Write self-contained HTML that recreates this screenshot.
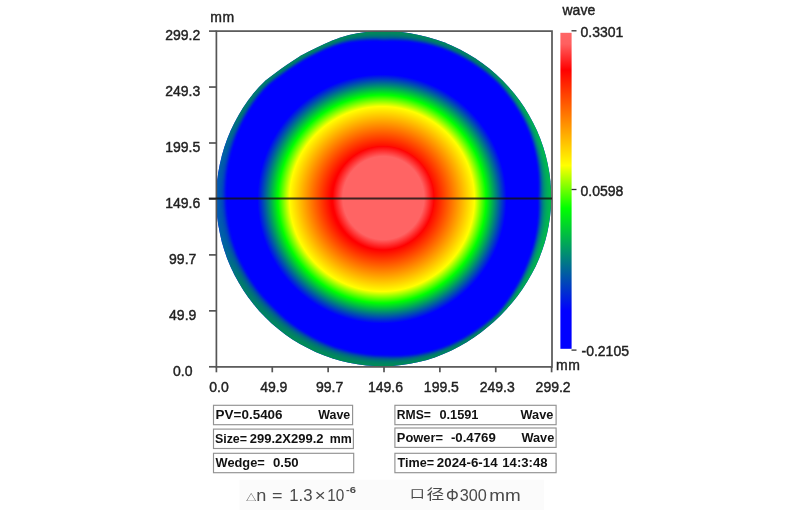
<!DOCTYPE html>
<html lang="zh"><head><meta charset="utf-8"><title>wavefront map</title>
<style>
html,body{margin:0;padding:0;background:#fff;}
body{width:790px;height:510px;overflow:hidden;position:relative;}
svg{position:absolute;left:0;top:0;display:block;filter:blur(0.45px);}
.ax{font-family:"Liberation Sans","DejaVu Sans",sans-serif;font-size:14px;fill:#222;stroke:#222;stroke-width:0.42px;}
.bx{font-family:"Liberation Sans","DejaVu Sans",sans-serif;font-size:13.4px;font-weight:bold;fill:#111;}
.cap{font-family:"Liberation Sans","Noto Sans CJK SC",sans-serif;font-size:17px;fill:#4a4a4a;}
</style></head><body>
<svg width="790" height="510" viewBox="0 0 790 510">
<defs>
<radialGradient id="rings" gradientUnits="userSpaceOnUse" cx="382" cy="199" r="180">
<stop offset="0" stop-color="#ff0000"/>
<stop offset="0.283" stop-color="#ff0000"/>
<stop offset="0.514" stop-color="#ffff00"/>
<stop offset="0.578" stop-color="#00ff00"/>
<stop offset="0.692" stop-color="#0000ff"/>
<stop offset="1" stop-color="#0000ff"/>
</radialGradient>
<radialGradient id="pink" cx="0.5" cy="0.5" r="0.5"><stop offset="0" stop-color="#ff6464"/><stop offset="0.8" stop-color="#ff6464"/><stop offset="1" stop-color="#ff0000"/></radialGradient>
<linearGradient id="cbar" x1="0" y1="0" x2="0" y2="1">
<stop offset="0" stop-color="#ff6666"/>
<stop offset="0.035" stop-color="#ff6060"/>
<stop offset="0.118" stop-color="#ff0000"/>
<stop offset="0.42" stop-color="#ffff00"/>
<stop offset="0.555" stop-color="#00ff00"/>
<stop offset="0.88" stop-color="#0000ff"/>
<stop offset="1" stop-color="#0000ff"/>
</linearGradient>
<filter id="rimblur" x="-5%" y="-5%" width="110%" height="110%"><feGaussianBlur stdDeviation="1"/></filter>
<linearGradient id="rimcol" gradientUnits="userSpaceOnUse" x1="216" y1="0" x2="552" y2="0"><stop offset="0" stop-color="rgb(0,95,180)"/><stop offset="0.07" stop-color="rgb(0,135,95)"/><stop offset="0.25" stop-color="rgb(0,152,74)"/><stop offset="0.8" stop-color="rgb(0,145,78)"/><stop offset="0.95" stop-color="rgb(0,195,65)"/><stop offset="1" stop-color="rgb(0,200,65)"/></linearGradient>
<clipPath id="clip"><polygon points="551.2,198.8 550.9,207.6 550.1,216.3 548.8,224.9 547.1,233.5 544.9,242.0 542.2,250.3 539.1,258.4 535.6,266.4 531.6,274.1 527.3,281.6 522.5,288.9 517.5,295.9 512.1,302.7 506.4,309.2 500.5,315.5 494.2,321.4 487.7,327.1 480.9,332.5 473.9,337.5 466.6,342.3 459.1,346.6 451.4,350.6 443.4,354.1 435.3,357.2 427.0,359.9 418.5,362.1 409.9,363.8 401.3,365.1 392.6,365.9 383.8,366.2 375.0,366.0 366.3,365.4 357.6,364.3 349.0,362.7 340.4,360.7 332.0,358.2 323.7,355.3 315.6,351.9 307.7,348.1 300.0,343.9 292.5,339.4 285.3,334.4 278.3,329.0 271.7,323.4 265.3,317.3 259.2,310.9 253.6,304.3 248.2,297.3 243.2,290.1 238.7,282.6 234.5,274.9 230.7,267.0 227.3,258.9 224.4,250.6 221.9,242.2 219.9,233.6 218.3,225.0 217.1,216.3 216.4,207.6 216.2,198.8 216.4,190.0 217.1,181.3 218.3,172.6 219.9,164.0 221.9,155.4 224.4,147.0 227.3,138.7 230.7,130.6 234.5,122.7 238.7,115.0 243.2,107.5 248.2,100.3 253.6,93.3 259.3,86.7 265.6,80.6 272.5,75.2 279.5,70.0 286.6,65.0 293.8,60.2 301.1,55.6 308.8,51.5 316.5,47.7 324.4,44.1 332.4,40.6 340.6,37.4 349.0,35.0 357.6,33.3 366.3,32.1 375.0,31.4 383.8,31.2 392.6,31.4 401.3,32.1 410.0,33.3 418.6,34.9 427.2,36.9 435.6,39.4 443.9,42.3 452.0,45.7 459.9,49.5 467.6,53.7 475.1,58.2 482.3,63.2 489.3,68.6 495.9,74.2 502.3,80.3 508.4,86.7 514.0,93.3 519.4,100.3 524.4,107.5 528.9,115.0 533.1,122.7 536.9,130.6 540.3,138.7 543.2,147.0 545.7,155.4 547.7,164.0 549.3,172.6 550.4,181.3 551.0,190.0"/></clipPath>
</defs>
<g clip-path="url(#clip)">
<rect x="210" y="25" width="350" height="350" fill="url(#rings)"/>
<ellipse cx="383.4" cy="198" rx="50.8" ry="52" fill="url(#pink)"/>
<g filter="url(#rimblur)" fill="url(#rimcol)" fill-rule="evenodd" fill-opacity="0.42"><path d="M557.2 198.8L556.9 207.9L556.1 216.9L554.8 225.9L553.0 234.8L550.7 243.5L547.9 252.1L544.7 260.6L541.0 268.8L536.9 276.8L532.5 284.6L527.6 292.2L522.3 299.5L516.8 306.5L510.9 313.2L504.7 319.7L498.2 325.9L491.5 331.8L484.5 337.3L477.2 342.6L469.6 347.5L461.8 351.9L453.8 356.0L445.6 359.7L437.1 362.9L428.5 365.7L419.8 368.0L410.9 369.8L401.9 371.1L392.9 371.9L383.8 372.2L374.7 372.0L365.7 371.4L356.7 370.2L347.7 368.6L338.9 366.5L330.2 363.9L321.6 360.9L313.2 357.4L305.0 353.5L297.0 349.1L289.3 344.4L281.8 339.2L274.6 333.7L267.6 327.8L261.0 321.6L254.8 315.0L248.9 308.1L243.4 300.8L238.2 293.3L233.5 285.6L229.1 277.6L225.2 269.4L221.7 261.0L218.7 252.4L216.1 243.7L214.0 234.9L212.3 226.0L211.2 216.9L210.4 207.9L210.2 198.8L210.4 189.7L211.2 180.7L212.3 171.6L214.0 162.7L216.1 153.9L218.7 145.2L221.7 136.6L225.2 128.2L229.1 120.0L233.5 112.0L238.2 104.3L243.4 96.8L248.9 89.6L254.9 82.7L261.4 76.4L268.5 70.7L275.7 65.4L283.1 60.1L290.5 55.1L298.1 50.4L306.0 46.2L314.1 42.2L322.3 38.5L330.5 34.9L339.0 31.6L347.7 29.1L356.6 27.3L365.7 26.2L374.7 25.4L383.8 25.2L392.9 25.4L401.9 26.2L411.0 27.3L419.9 29.0L428.7 31.1L437.4 33.7L446.0 36.7L454.4 40.2L462.6 44.1L470.6 48.5L478.3 53.2L485.8 58.4L493.1 63.9L500.0 69.8L506.6 76.0L512.8 82.6L518.7 89.6L524.2 96.8L529.4 104.3L534.1 112.0L538.5 120.0L542.4 128.2L545.9 136.6L548.9 145.2L551.5 153.9L553.6 162.7L555.2 171.7L556.4 180.7L557.0 189.7ZM548.8 198.8L548.6 207.4L547.9 216.0L546.8 224.6L545.1 233.1L543.0 241.5L540.5 249.7L537.5 257.8L534.1 265.7L530.3 273.4L526.1 280.9L521.5 288.2L516.6 295.3L511.4 302.1L505.8 308.7L500.0 315.0L493.7 320.9L487.2 326.5L480.4 331.8L473.4 336.8L466.1 341.4L458.6 345.7L450.9 349.5L443.0 353.0L434.9 356.0L426.6 358.5L418.2 360.6L409.7 362.2L401.1 363.4L392.5 364.0L383.8 364.2L375.1 364.0L366.5 363.3L357.9 362.2L349.4 360.6L341.0 358.6L332.7 356.1L324.5 353.2L316.5 349.9L308.7 346.1L301.1 342.0L293.8 337.4L286.7 332.5L279.8 327.2L273.2 321.6L267.0 315.6L261.0 309.4L255.3 302.8L250.0 296.0L245.1 288.9L240.5 281.5L236.3 273.9L232.6 266.1L229.2 258.1L226.3 250.0L223.8 241.7L221.7 233.2L220.1 224.7L219.0 216.1L218.3 207.5L218.0 198.8L218.2 190.1L218.8 181.5L219.9 172.8L221.4 164.3L223.4 155.8L225.8 147.5L228.6 139.2L231.9 131.2L235.6 123.3L239.7 115.6L244.2 108.2L249.1 101.0L254.4 94.0L260.1 87.4L266.4 81.4L273.1 75.9L280.1 70.8L287.2 65.8L294.3 61.0L301.6 56.5L309.2 52.4L316.9 48.6L324.8 45.0L332.7 41.6L340.9 38.6L349.2 36.2L357.8 34.7L366.4 33.7L375.1 33.1L383.8 33.0L392.5 33.1L401.1 33.7L409.8 34.8L418.3 36.3L426.8 38.2L435.2 40.6L443.4 43.4L451.5 46.8L459.4 50.5L467.0 54.6L474.5 59.2L481.7 64.1L488.6 69.4L495.3 75.0L501.6 81.0L507.6 87.4L513.2 94.0L518.4 101.0L523.3 108.2L527.8 115.7L531.9 123.3L535.6 131.2L538.8 139.3L541.6 147.5L543.9 155.9L545.8 164.4L547.3 172.9L548.2 181.5L548.8 190.2Z"/>
<path d="M557.2 198.8L556.9 207.9L556.1 216.9L554.8 225.9L553.0 234.8L550.7 243.5L547.9 252.1L544.7 260.6L541.0 268.8L536.9 276.8L532.5 284.6L527.6 292.2L522.3 299.5L516.8 306.5L510.9 313.2L504.7 319.7L498.2 325.9L491.5 331.8L484.5 337.3L477.2 342.6L469.6 347.5L461.8 351.9L453.8 356.0L445.6 359.7L437.1 362.9L428.5 365.7L419.8 368.0L410.9 369.8L401.9 371.1L392.9 371.9L383.8 372.2L374.7 372.0L365.7 371.4L356.7 370.2L347.7 368.6L338.9 366.5L330.2 363.9L321.6 360.9L313.2 357.4L305.0 353.5L297.0 349.1L289.3 344.4L281.8 339.2L274.6 333.7L267.6 327.8L261.0 321.6L254.8 315.0L248.9 308.1L243.4 300.8L238.2 293.3L233.5 285.6L229.1 277.6L225.2 269.4L221.7 261.0L218.7 252.4L216.1 243.7L214.0 234.9L212.3 226.0L211.2 216.9L210.4 207.9L210.2 198.8L210.4 189.7L211.2 180.7L212.3 171.6L214.0 162.7L216.1 153.9L218.7 145.2L221.7 136.6L225.2 128.2L229.1 120.0L233.5 112.0L238.2 104.3L243.4 96.8L248.9 89.6L254.9 82.7L261.4 76.4L268.5 70.7L275.7 65.4L283.1 60.1L290.5 55.1L298.1 50.4L306.0 46.2L314.1 42.2L322.3 38.5L330.5 34.9L339.0 31.6L347.7 29.1L356.6 27.3L365.7 26.2L374.7 25.4L383.8 25.2L392.9 25.4L401.9 26.2L411.0 27.3L419.9 29.0L428.7 31.1L437.4 33.7L446.0 36.7L454.4 40.2L462.6 44.1L470.6 48.5L478.3 53.2L485.8 58.4L493.1 63.9L500.0 69.8L506.6 76.0L512.8 82.6L518.7 89.6L524.2 96.8L529.4 104.3L534.1 112.0L538.5 120.0L542.4 128.2L545.9 136.6L548.9 145.2L551.5 153.9L553.6 162.7L555.2 171.7L556.4 180.7L557.0 189.7ZM546.4 198.8L546.3 207.3L545.7 215.8L544.7 224.3L543.2 232.7L541.2 241.0L538.8 249.1L535.9 257.2L532.6 265.0L528.9 272.7L524.9 280.2L520.5 287.6L515.7 294.6L510.6 301.5L505.2 308.1L499.5 314.5L493.2 320.3L486.7 325.8L479.9 331.1L472.9 336.0L465.6 340.5L458.1 344.7L450.5 348.5L442.6 351.9L434.5 354.8L426.2 357.2L417.9 359.1L409.4 360.6L400.9 361.6L392.4 362.1L383.8 362.2L375.2 362.0L366.7 361.3L358.2 360.2L349.8 358.6L341.5 356.5L333.4 354.1L325.3 351.2L317.4 347.9L309.7 344.1L302.3 340.0L295.0 335.5L288.0 330.6L281.3 325.4L274.8 319.8L268.7 313.9L262.7 307.8L257.1 301.4L251.9 294.7L246.9 287.7L242.4 280.4L238.2 273.0L234.5 265.3L231.1 257.4L228.2 249.4L225.7 241.2L223.6 232.8L222.0 224.4L220.8 215.9L220.1 207.4L219.8 198.8L219.9 190.2L220.5 181.6L221.5 173.1L222.9 164.6L224.8 156.2L227.1 147.9L229.9 139.7L233.1 131.7L236.8 123.9L240.8 116.2L245.2 108.8L250.1 101.6L255.3 94.7L260.9 88.1L267.1 82.1L273.8 76.7L280.8 71.6L287.8 66.6L294.9 61.8L302.1 57.4L309.7 53.3L317.3 49.5L325.1 46.0L333.1 42.6L341.2 39.7L349.5 37.5L358.0 36.1L366.6 35.2L375.2 34.8L383.8 34.8L392.4 34.8L401.0 35.3L409.5 36.3L418.0 37.7L426.5 39.5L434.8 41.8L443.0 44.6L451.0 47.8L458.9 51.5L466.5 55.6L473.9 60.1L481.1 64.9L488.0 70.2L494.6 75.8L500.9 81.7L506.8 88.1L512.3 94.7L517.5 101.7L522.3 108.9L526.7 116.3L530.7 123.9L534.3 131.8L537.3 139.9L540.0 148.1L542.2 156.4L543.9 164.8L545.2 173.2L546.1 181.7L546.5 190.3Z"/>
<path d="M557.2 198.8L556.9 207.9L556.1 216.9L554.8 225.9L553.0 234.8L550.7 243.5L547.9 252.1L544.7 260.6L541.0 268.8L536.9 276.8L532.5 284.6L527.6 292.2L522.3 299.5L516.8 306.5L510.9 313.2L504.7 319.7L498.2 325.9L491.5 331.8L484.5 337.3L477.2 342.6L469.6 347.5L461.8 351.9L453.8 356.0L445.6 359.7L437.1 362.9L428.5 365.7L419.8 368.0L410.9 369.8L401.9 371.1L392.9 371.9L383.8 372.2L374.7 372.0L365.7 371.4L356.7 370.2L347.7 368.6L338.9 366.5L330.2 363.9L321.6 360.9L313.2 357.4L305.0 353.5L297.0 349.1L289.3 344.4L281.8 339.2L274.6 333.7L267.6 327.8L261.0 321.6L254.8 315.0L248.9 308.1L243.4 300.8L238.2 293.3L233.5 285.6L229.1 277.6L225.2 269.4L221.7 261.0L218.7 252.4L216.1 243.7L214.0 234.9L212.3 226.0L211.2 216.9L210.4 207.9L210.2 198.8L210.4 189.7L211.2 180.7L212.3 171.6L214.0 162.7L216.1 153.9L218.7 145.2L221.7 136.6L225.2 128.2L229.1 120.0L233.5 112.0L238.2 104.3L243.4 96.8L248.9 89.6L254.9 82.7L261.4 76.4L268.5 70.7L275.7 65.4L283.1 60.1L290.5 55.1L298.1 50.4L306.0 46.2L314.1 42.2L322.3 38.5L330.5 34.9L339.0 31.6L347.7 29.1L356.6 27.3L365.7 26.2L374.7 25.4L383.8 25.2L392.9 25.4L401.9 26.2L411.0 27.3L419.9 29.0L428.7 31.1L437.4 33.7L446.0 36.7L454.4 40.2L462.6 44.1L470.6 48.5L478.3 53.2L485.8 58.4L493.1 63.9L500.0 69.8L506.6 76.0L512.8 82.6L518.7 89.6L524.2 96.8L529.4 104.3L534.1 112.0L538.5 120.0L542.4 128.2L545.9 136.6L548.9 145.2L551.5 153.9L553.6 162.7L555.2 171.7L556.4 180.7L557.0 189.7ZM544.0 198.8L544.0 207.2L543.5 215.6L542.6 223.9L541.2 232.3L539.3 240.5L537.0 248.6L534.3 256.6L531.1 264.4L527.6 272.1L523.7 279.6L519.4 286.9L514.8 294.0L509.9 300.9L504.6 307.6L499.0 314.0L492.7 319.7L486.2 325.2L479.4 330.4L472.4 335.2L465.1 339.7L457.7 343.8L450.0 347.5L442.1 350.8L434.1 353.6L425.9 355.8L417.6 357.6L409.2 359.0L400.7 359.9L392.3 360.3L383.8 360.2L375.4 360.0L366.9 359.3L358.6 358.1L350.3 356.5L342.1 354.5L334.0 352.0L326.1 349.1L318.3 345.8L310.8 342.1L303.4 338.0L296.3 333.6L289.4 328.8L282.8 323.6L276.4 318.1L270.4 312.2L264.5 306.2L258.9 299.9L253.7 293.3L248.8 286.5L244.3 279.4L240.1 272.0L236.3 264.5L233.0 256.7L230.1 248.8L227.6 240.7L225.5 232.4L223.9 224.1L222.7 215.7L221.9 207.3L221.6 198.8L221.6 190.3L222.1 181.8L223.1 173.3L224.4 164.9L226.3 156.6L228.5 148.3L231.2 140.2L234.4 132.3L237.9 124.5L241.9 116.9L246.2 109.5L251.0 102.3L256.1 95.4L261.7 88.8L267.8 82.8L274.5 77.4L281.4 72.3L288.4 67.4L295.4 62.7L302.6 58.2L310.1 54.2L317.8 50.5L325.5 46.9L333.4 43.7L341.5 40.9L349.8 38.8L358.3 37.5L366.8 36.8L375.3 36.5L383.8 36.6L392.3 36.6L400.8 37.0L409.3 37.8L417.7 39.1L426.1 40.8L434.4 43.0L442.6 45.7L450.5 48.9L458.3 52.5L465.9 56.6L473.3 61.0L480.4 65.8L487.3 71.0L493.9 76.5L500.2 82.4L506.0 88.8L511.4 95.4L516.5 102.4L521.2 109.5L525.6 117.0L529.5 124.6L533.0 132.4L535.9 140.4L538.4 148.6L540.4 156.8L542.1 165.2L543.2 173.5L543.9 182.0L544.2 190.4Z"/>
<path d="M557.2 198.8L556.9 207.9L556.1 216.9L554.8 225.9L553.0 234.8L550.7 243.5L547.9 252.1L544.7 260.6L541.0 268.8L536.9 276.8L532.5 284.6L527.6 292.2L522.3 299.5L516.8 306.5L510.9 313.2L504.7 319.7L498.2 325.9L491.5 331.8L484.5 337.3L477.2 342.6L469.6 347.5L461.8 351.9L453.8 356.0L445.6 359.7L437.1 362.9L428.5 365.7L419.8 368.0L410.9 369.8L401.9 371.1L392.9 371.9L383.8 372.2L374.7 372.0L365.7 371.4L356.7 370.2L347.7 368.6L338.9 366.5L330.2 363.9L321.6 360.9L313.2 357.4L305.0 353.5L297.0 349.1L289.3 344.4L281.8 339.2L274.6 333.7L267.6 327.8L261.0 321.6L254.8 315.0L248.9 308.1L243.4 300.8L238.2 293.3L233.5 285.6L229.1 277.6L225.2 269.4L221.7 261.0L218.7 252.4L216.1 243.7L214.0 234.9L212.3 226.0L211.2 216.9L210.4 207.9L210.2 198.8L210.4 189.7L211.2 180.7L212.3 171.6L214.0 162.7L216.1 153.9L218.7 145.2L221.7 136.6L225.2 128.2L229.1 120.0L233.5 112.0L238.2 104.3L243.4 96.8L248.9 89.6L254.9 82.7L261.4 76.4L268.5 70.7L275.7 65.4L283.1 60.1L290.5 55.1L298.1 50.4L306.0 46.2L314.1 42.2L322.3 38.5L330.5 34.9L339.0 31.6L347.7 29.1L356.6 27.3L365.7 26.2L374.7 25.4L383.8 25.2L392.9 25.4L401.9 26.2L411.0 27.3L419.9 29.0L428.7 31.1L437.4 33.7L446.0 36.7L454.4 40.2L462.6 44.1L470.6 48.5L478.3 53.2L485.8 58.4L493.1 63.9L500.0 69.8L506.6 76.0L512.8 82.6L518.7 89.6L524.2 96.8L529.4 104.3L534.1 112.0L538.5 120.0L542.4 128.2L545.9 136.6L548.9 145.2L551.5 153.9L553.6 162.7L555.2 171.7L556.4 180.7L557.0 189.7ZM541.6 198.8L541.7 207.1L541.3 215.4L540.5 223.6L539.2 231.8L537.5 240.0L535.3 248.0L532.7 255.9L529.6 263.7L526.2 271.4L522.5 278.9L518.4 286.2L513.9 293.3L509.1 300.3L504.0 307.0L498.5 313.5L492.2 319.2L485.6 324.6L478.9 329.6L471.9 334.4L464.6 338.8L457.2 342.8L449.5 346.5L441.7 349.7L433.7 352.4L425.5 354.5L417.2 356.2L408.9 357.4L400.5 358.1L392.2 358.4L383.8 358.2L375.5 357.9L367.1 357.2L358.9 356.0L350.7 354.4L342.6 352.4L334.7 350.0L326.9 347.1L319.2 343.8L311.8 340.1L304.5 336.1L297.5 331.7L290.7 326.9L284.2 321.8L278.0 316.3L272.1 310.5L266.2 304.7L260.7 298.5L255.5 292.0L250.6 285.3L246.1 278.3L242.0 271.1L238.2 263.6L234.9 256.0L231.9 248.1L229.4 240.2L227.4 232.0L225.7 223.8L224.5 215.5L223.7 207.2L223.4 198.8L223.4 190.4L223.8 182.0L224.7 173.6L226.0 165.3L227.7 157.0L229.9 148.8L232.5 140.7L235.6 132.8L239.1 125.1L242.9 117.5L247.2 110.1L251.9 103.0L257.0 96.1L262.4 89.5L268.5 83.5L275.2 78.1L282.0 73.1L288.9 68.2L295.9 63.5L303.1 59.1L310.6 55.1L318.2 51.4L325.8 47.8L333.7 44.7L341.8 42.0L350.1 40.1L358.5 39.0L366.9 38.3L375.4 38.1L383.8 38.4L392.2 38.3L400.6 38.6L409.1 39.3L417.4 40.5L425.8 42.1L434.0 44.2L442.2 46.8L450.1 50.0L457.8 53.5L465.4 57.5L472.7 61.9L479.8 66.7L486.6 71.8L493.2 77.3L499.5 83.1L505.2 89.5L510.6 96.1L515.6 103.1L520.2 110.2L524.4 117.6L528.3 125.2L531.6 133.0L534.4 141.0L536.8 149.1L538.7 157.3L540.2 165.6L541.2 173.9L541.8 182.2L541.9 190.5Z"/>
<path d="M557.2 198.8L556.9 207.9L556.1 216.9L554.8 225.9L553.0 234.8L550.7 243.5L547.9 252.1L544.7 260.6L541.0 268.8L536.9 276.8L532.5 284.6L527.6 292.2L522.3 299.5L516.8 306.5L510.9 313.2L504.7 319.7L498.2 325.9L491.5 331.8L484.5 337.3L477.2 342.6L469.6 347.5L461.8 351.9L453.8 356.0L445.6 359.7L437.1 362.9L428.5 365.7L419.8 368.0L410.9 369.8L401.9 371.1L392.9 371.9L383.8 372.2L374.7 372.0L365.7 371.4L356.7 370.2L347.7 368.6L338.9 366.5L330.2 363.9L321.6 360.9L313.2 357.4L305.0 353.5L297.0 349.1L289.3 344.4L281.8 339.2L274.6 333.7L267.6 327.8L261.0 321.6L254.8 315.0L248.9 308.1L243.4 300.8L238.2 293.3L233.5 285.6L229.1 277.6L225.2 269.4L221.7 261.0L218.7 252.4L216.1 243.7L214.0 234.9L212.3 226.0L211.2 216.9L210.4 207.9L210.2 198.8L210.4 189.7L211.2 180.7L212.3 171.6L214.0 162.7L216.1 153.9L218.7 145.2L221.7 136.6L225.2 128.2L229.1 120.0L233.5 112.0L238.2 104.3L243.4 96.8L248.9 89.6L254.9 82.7L261.4 76.4L268.5 70.7L275.7 65.4L283.1 60.1L290.5 55.1L298.1 50.4L306.0 46.2L314.1 42.2L322.3 38.5L330.5 34.9L339.0 31.6L347.7 29.1L356.6 27.3L365.7 26.2L374.7 25.4L383.8 25.2L392.9 25.4L401.9 26.2L411.0 27.3L419.9 29.0L428.7 31.1L437.4 33.7L446.0 36.7L454.4 40.2L462.6 44.1L470.6 48.5L478.3 53.2L485.8 58.4L493.1 63.9L500.0 69.8L506.6 76.0L512.8 82.6L518.7 89.6L524.2 96.8L529.4 104.3L534.1 112.0L538.5 120.0L542.4 128.2L545.9 136.6L548.9 145.2L551.5 153.9L553.6 162.7L555.2 171.7L556.4 180.7L557.0 189.7ZM539.2 198.8L539.4 207.0L539.1 215.1L538.4 223.3L537.2 231.4L535.6 239.5L533.5 247.5L531.0 255.3L528.1 263.0L524.9 270.7L521.3 278.2L517.3 285.5L513.0 292.7L508.4 299.7L503.3 306.4L498.0 313.0L491.7 318.6L485.1 323.9L478.3 328.9L471.3 333.6L464.1 337.9L456.7 341.9L449.1 345.4L441.3 348.6L433.3 351.1L425.2 353.1L416.9 354.7L408.7 355.7L400.4 356.4L392.1 356.5L383.8 356.2L375.6 355.9L367.4 355.2L359.2 354.0L351.2 352.4L343.2 350.3L335.4 347.9L327.7 345.0L320.1 341.8L312.8 338.1L305.7 334.1L298.8 329.7L292.1 325.0L285.7 319.9L279.6 314.5L273.8 308.8L268.0 303.1L262.5 297.0L257.3 290.7L252.5 284.1L248.0 277.2L243.9 270.1L240.1 262.8L236.7 255.3L233.8 247.5L231.3 239.7L229.3 231.7L227.6 223.5L226.4 215.3L225.6 207.1L225.2 198.8L225.1 190.5L225.5 182.2L226.3 173.8L227.5 165.6L229.2 157.4L231.3 149.2L233.8 141.2L236.8 133.3L240.2 125.6L244.0 118.1L248.2 110.8L252.8 103.6L257.8 96.8L263.2 90.2L269.2 84.2L275.8 78.9L282.7 73.9L289.5 69.0L296.5 64.4L303.6 60.0L311.0 56.0L318.6 52.3L326.2 48.8L334.1 45.7L342.1 43.2L350.3 41.4L358.7 40.4L367.1 39.9L375.5 39.8L383.8 40.2L392.1 40.0L400.5 40.2L408.8 40.8L417.1 41.9L425.4 43.4L433.6 45.4L441.7 47.9L449.6 51.0L457.3 54.6L464.8 58.5L472.1 62.8L479.2 67.5L486.0 72.6L492.5 78.1L498.8 83.8L504.4 90.2L509.7 96.9L514.6 103.8L519.2 110.9L523.3 118.3L527.1 125.8L530.3 133.6L533.0 141.5L535.2 149.6L537.0 157.8L538.3 166.0L539.2 174.2L539.6 182.4L539.6 190.6Z"/></g>
</g>

<g stroke="#555" stroke-width="1.7" fill="none">
<rect x="216.4" y="31.1" width="335.6" height="335.8"/>
<line x1="216.4" y1="367" x2="216.4" y2="372.3"/>
<line x1="272.27" y1="367" x2="272.27" y2="372.3"/>
<line x1="328.14" y1="367" x2="328.14" y2="372.3"/>
<line x1="384.01" y1="367" x2="384.01" y2="372.3"/>
<line x1="439.88" y1="367" x2="439.88" y2="372.3"/>
<line x1="495.75" y1="367" x2="495.75" y2="372.3"/>
<line x1="551.62" y1="367" x2="551.62" y2="372.3"/>
<line x1="209" y1="366.79999999999995" x2="216.5" y2="366.79999999999995"/>
<line x1="209" y1="310.84999999999997" x2="216.5" y2="310.84999999999997"/>
<line x1="209" y1="254.89999999999998" x2="216.5" y2="254.89999999999998"/>
<line x1="209" y1="198.94999999999996" x2="216.5" y2="198.94999999999996"/>
<line x1="209" y1="142.99999999999997" x2="216.5" y2="142.99999999999997"/>
<line x1="209" y1="87.04999999999998" x2="216.5" y2="87.04999999999998"/>
<line x1="209" y1="31.09999999999993" x2="216.5" y2="31.09999999999993"/>
</g>
<line x1="208.8" y1="198.6" x2="552" y2="198.6" stroke="#111" stroke-width="2" stroke-opacity="0.8"/>
<rect x="560.4" y="32.8" width="11.2" height="316" fill="url(#cbar)"/>
<g stroke="#333" stroke-width="1.3">
<line x1="571.5" y1="30.8" x2="576.5" y2="30.8"/>
<line x1="571.5" y1="189.5" x2="576.5" y2="189.5"/>
<line x1="571.5" y1="350.1" x2="576.5" y2="350.1"/>
</g>
<g class="ax">
<text x="210.3" y="22" letter-spacing="0.5">mm</text>
<text x="556" y="370" letter-spacing="0.6">mm</text>
<text x="562.5" y="15.4">wave</text>
<text x="580.5" y="36.8">0.3301</text>
<text x="580.5" y="195.5">0.0598</text>
<text x="581.5" y="355.6">-0.2105</text>
<text x="219.00" y="392.2" text-anchor="middle">0.0</text>
<text x="273.77" y="392.2" text-anchor="middle">49.9</text>
<text x="329.64" y="392.2" text-anchor="middle">99.7</text>
<text x="385.51" y="392.2" text-anchor="middle">149.6</text>
<text x="441.38" y="392.2" text-anchor="middle">199.5</text>
<text x="497.25" y="392.2" text-anchor="middle">249.3</text>
<text x="553.12" y="392.2" text-anchor="middle">299.2</text>
<text x="182.7" y="375.6" text-anchor="middle">0.0</text>
<text x="182.7" y="319.6" text-anchor="middle">49.9</text>
<text x="182.7" y="263.7" text-anchor="middle">99.7</text>
<text x="182.7" y="207.7" text-anchor="middle">149.6</text>
<text x="182.7" y="151.8" text-anchor="middle">199.5</text>
<text x="182.7" y="95.8" text-anchor="middle">249.3</text>
<text x="182.7" y="39.9" text-anchor="middle">299.2</text>
</g>
<g fill="#fff" stroke="#929292" stroke-width="1.15">
<rect x="213.5" y="405.3" width="139.1" height="19.4"/>
<rect x="394.9" y="405.3" width="161.2" height="19.4"/>
<rect x="213.5" y="429.1" width="139.9" height="19.4"/>
<rect x="394.9" y="428.0" width="161.2" height="19.4"/>
<rect x="213.5" y="453.3" width="140.2" height="19.4"/>
<rect x="394.9" y="453.3" width="161.2" height="19.4"/>
</g>
<g class="bx">
<text id="bx0" x="215.61" y="418.9" textLength="66.98" lengthAdjust="spacingAndGlyphs">PV=0.5406</text>
<text id="bx1" x="318.27" y="418.9" textLength="31.95" lengthAdjust="spacingAndGlyphs">Wave</text>
<text id="bx2" x="214.89" y="443.0" textLength="32.20" lengthAdjust="spacingAndGlyphs">Size=</text>
<text id="bx3" x="249.81" y="443.0" textLength="73.80" lengthAdjust="spacingAndGlyphs">299.2X299.2</text>
<text id="bx4" x="329.86" y="443.0" textLength="22.00" lengthAdjust="spacingAndGlyphs">mm</text>
<text id="bx5" x="215.56" y="466.9" textLength="49.20" lengthAdjust="spacingAndGlyphs">Wedge=</text>
<text id="bx6" x="272.93" y="466.9" textLength="25.65" lengthAdjust="spacingAndGlyphs">0.50</text>
<text id="bx7" x="396.87" y="418.9" textLength="34.05" lengthAdjust="spacingAndGlyphs">RMS=</text>
<text id="bx8" x="439.40" y="418.9" textLength="39.10" lengthAdjust="spacingAndGlyphs">0.1591</text>
<text id="bx9" x="520.56" y="418.9" textLength="32.80" lengthAdjust="spacingAndGlyphs">Wave</text>
<text id="bx10" x="396.82" y="441.9" textLength="46.25" lengthAdjust="spacingAndGlyphs">Power=</text>
<text id="bx11" x="450.93" y="441.9" textLength="44.86" lengthAdjust="spacingAndGlyphs">-0.4769</text>
<text id="bx12" x="521.41" y="441.9" textLength="32.83" lengthAdjust="spacingAndGlyphs">Wave</text>
<text id="bx13" x="397.56" y="466.9" textLength="36.54" lengthAdjust="spacingAndGlyphs">Time=</text>
<text id="bx14" x="436.83" y="466.9" textLength="60.77" lengthAdjust="spacingAndGlyphs">2024-6-14</text>
<text id="bx15" x="502.32" y="466.9" textLength="45.14" lengthAdjust="spacingAndGlyphs">14:3:48</text>
</g>
<rect x="239.5" y="479.7" width="304.5" height="31" fill="#fbfbfb"/>
<g class="cap">
<text x="245.92" y="501.2" font-size="9" textLength="10.36" lengthAdjust="spacingAndGlyphs">△</text>
<text x="256.22" y="501.2" font-size="17" textLength="10.11" lengthAdjust="spacingAndGlyphs">n</text>
<text x="272.09" y="501.2" font-size="17" textLength="10.45" lengthAdjust="spacingAndGlyphs">=</text>
<text x="289.16" y="501.2" font-size="17" textLength="23.32" lengthAdjust="spacingAndGlyphs">1.3</text>
<text x="314.73" y="501.2" font-size="17" textLength="10.87" lengthAdjust="spacingAndGlyphs">×</text>
<text x="327.32" y="501.2" font-size="17" textLength="17.12" lengthAdjust="spacingAndGlyphs">10</text>
<text x="346.04" y="493.2" font-size="9.5" textLength="10.00" lengthAdjust="spacingAndGlyphs" font-weight="bold">-6</text>
<text x="409.80" y="497.9" font-size="11.6" textLength="15.07" lengthAdjust="spacingAndGlyphs">口</text>
<text x="426.44" y="499.1" font-size="14.2" textLength="17.67" lengthAdjust="spacingAndGlyphs">径</text>
<text x="446.03" y="501.2" font-size="17" textLength="12.77" lengthAdjust="spacingAndGlyphs">Φ</text>
<text x="459.81" y="501.2" font-size="17" textLength="27.11" lengthAdjust="spacingAndGlyphs">300</text>
<text x="489.19" y="501.2" font-size="17" textLength="31.39" lengthAdjust="spacingAndGlyphs">mm</text>
</g>
</svg></body></html>
